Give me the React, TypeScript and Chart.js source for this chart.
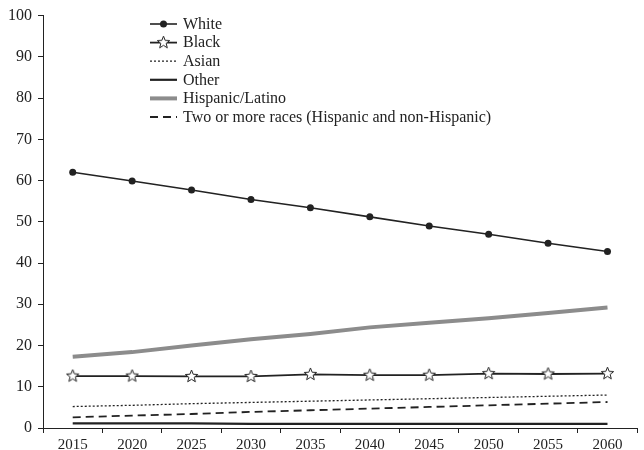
import { useEffect, useRef } from 'react'
import { Chart, registerables } from 'chart.js'

Chart.register(...registerables)

// values (percent of US population)
const YEARS = ['2015', '2020', '2025', '2030', '2035', '2040', '2045', '2050', '2055', '2060']
const WHITE = [62.0, 59.9, 57.7, 55.4, 53.4, 51.2, 49.0, 47.0, 44.8, 42.8]
const BLACK = [12.6, 12.6, 12.5, 12.5, 13.0, 12.8, 12.8, 13.2, 13.1, 13.2]
const ASIAN = [5.2, 5.5, 5.9, 6.2, 6.5, 6.8, 7.1, 7.4, 7.7, 8.0]
const OTHER = [1.1, 1.1, 1.1, 1.0, 1.0, 1.0, 1.0, 1.0, 1.0, 1.0]
const HISPANIC = [17.3, 18.4, 20.0, 21.5, 22.8, 24.4, 25.5, 26.6, 27.9, 29.2]
const TWO_OR_MORE = [2.6, 3.0, 3.4, 3.9, 4.3, 4.7, 5.1, 5.5, 5.9, 6.3]
const Y_TICKS = [0, 100, 10] // min, max, step

const FONT = '"Liberation Serif", "Times New Roman", serif'
const INK = '#222'

// outlined five point star used as the Black series marker
function makeStar() {
  const c = document.createElement('canvas')
  c.width = 15
  c.height = 15
  const ctx = c.getContext('2d')!
  ctx.beginPath()
  for (let i = 0; i < 10; i++) {
    const r = i % 2 === 0 ? 6.5 : 2.8
    const a = -Math.PI / 2 + (i * Math.PI) / 5
    const x = 7.5 + r * Math.cos(a)
    const y = 7.5 + r * Math.sin(a)
    if (i === 0) ctx.moveTo(x, y)
    else ctx.lineTo(x, y)
  }
  ctx.closePath()
  ctx.fillStyle = '#fff'
  ctx.fill()
  ctx.lineWidth = 1
  ctx.strokeStyle = INK
  ctx.stroke()
  return c
}

// legend drawn inside the plot, one row per dataset
const insetLegend = {
  id: 'insetLegend',
  afterDraw(chart: any) {
    const ctx = chart.ctx as CanvasRenderingContext2D
    ctx.save()
    ctx.font = `16px ${FONT}`
    ctx.textBaseline = 'middle'
    ctx.textAlign = 'left'
    chart.data.datasets.forEach((ds: any, i: number) => {
      const y = 24 + i * 18.6
      ctx.beginPath()
      ctx.setLineDash(ds.borderDash || [])
      ctx.lineWidth = ds.borderWidth
      ctx.strokeStyle = ds.borderColor
      ctx.moveTo(150, y)
      ctx.lineTo(177, y)
      ctx.stroke()
      ctx.setLineDash([])
      if (ds.pointStyle instanceof HTMLCanvasElement) {
        const img = ds.pointStyle as HTMLCanvasElement
        ctx.drawImage(img, 163.5 - img.width / 2, y - img.height / 2)
      } else if (ds.pointRadius > 0) {
        ctx.beginPath()
        ctx.arc(163.5, y, ds.pointRadius, 0, Math.PI * 2)
        ctx.fillStyle = ds.pointBackgroundColor
        ctx.fill()
      }
      ctx.fillStyle = INK
      ctx.fillText(ds.label, 183, y + 0.5)
    })
    ctx.restore()
  },
}

export default function App() {
  const ref = useRef<HTMLCanvasElement>(null)

  useEffect(() => {
    if (!ref.current) return
    const star = makeStar()
    const plain = { pointRadius: 0, pointHoverRadius: 0, tension: 0, fill: false }
    const chart = new Chart(ref.current, {
      type: 'line',
      data: {
        labels: YEARS,
        datasets: [
          {
            label: 'White', data: WHITE, borderColor: INK, borderWidth: 1.6,
            pointStyle: 'circle', pointRadius: 3.5, pointBackgroundColor: INK, pointBorderColor: INK, pointBorderWidth: 0,
            tension: 0, fill: false,
          },
          {
            label: 'Black', data: BLACK, borderColor: INK, borderWidth: 1.8,
            pointStyle: star, pointRadius: 7, tension: 0, fill: false,
          },
          { label: 'Asian', data: ASIAN, borderColor: INK, borderWidth: 1.3, borderDash: [2, 2], ...plain },
          { label: 'Other', data: OTHER, borderColor: INK, borderWidth: 2.2, ...plain },
          { label: 'Hispanic/Latino', data: HISPANIC, borderColor: '#8c8c8c', borderWidth: 4, ...plain },
          {
            label: 'Two or more races (Hispanic and non-Hispanic)', data: TWO_OR_MORE,
            borderColor: INK, borderWidth: 1.8, borderDash: [8, 5], ...plain,
          },
        ],
      },
      options: {
        responsive: false,
        animation: false,
        layout: { padding: { top: 14, right: 0, bottom: 0, left: 0 } },
        plugins: { legend: { display: false }, tooltip: { enabled: false } },
        scales: {
          x: {
            type: 'category',
            offset: true,
            grid: { display: true, offset: true, drawOnChartArea: false, drawTicks: true, tickLength: 5, color: INK, tickColor: INK },
            border: { display: true, color: INK, width: 1 },
            ticks: { color: INK, font: { family: FONT, size: 15 }, padding: 3, maxRotation: 0, autoSkip: false },
            afterFit: (s: any) => { s.height = 22 },
          },
          y: {
            min: Y_TICKS[0],
            max: Y_TICKS[1],
            grid: { display: true, drawOnChartArea: false, drawTicks: true, tickLength: 5, color: INK, tickColor: INK },
            border: { display: true, color: INK, width: 1 },
            ticks: { stepSize: Y_TICKS[2], color: INK, font: { family: FONT, size: 16 }, padding: 6 },
            afterFit: (s: any) => { s.width = 43 },
          },
        },
      },
      plugins: [insetLegend],
    })
    return () => chart.destroy()
  }, [])

  return (
    <div style={{ position: 'fixed', left: 0, top: 0, width: 644, height: 450, overflow: 'hidden', background: '#fff' }}>
      <canvas ref={ref} width={646} height={450} style={{ display: 'block', width: 646, height: 450 }} />
    </div>
  )
}
